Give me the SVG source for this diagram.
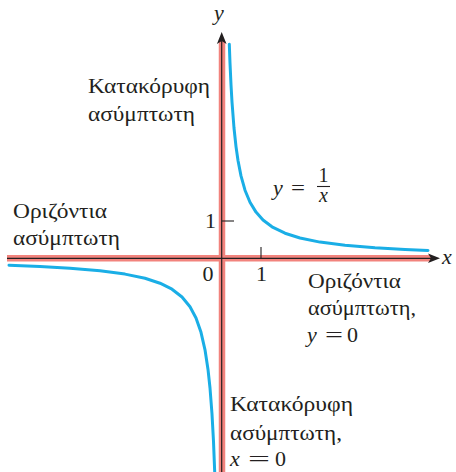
<svg xmlns="http://www.w3.org/2000/svg" width="456" height="472" viewBox="0 0 456 472">
<style>
.t{font-family:"Liberation Serif","Times New Roman",serif;font-size:22px;fill:#231f20}
.i{font-style:italic}
.f{font-size:20px}
.band{stroke:#f2837d;stroke-width:6.5;fill:none}
.ax{stroke:#231f20;stroke-width:1.2;fill:none}
.tick{stroke:#231f20;stroke-width:1.1}
.curve{stroke:#1aaee6;stroke-width:3;fill:none;stroke-linejoin:round;stroke-linecap:round}
.ah{fill:#231f20}
</style>
<rect width="456" height="472" fill="#ffffff"/>
<g id="asymptotes">
<line class="band" x1="222" y1="41" x2="222" y2="472"/>
<line class="band" x1="7" y1="258.3" x2="431" y2="258.3"/>
</g>
<g id="axes">
<line class="ax" x1="221.7" y1="38" x2="221.7" y2="472"/>
<line class="ax" x1="7" y1="258.3" x2="434" y2="258.3"/>
<path class="ah" d="M221.7,32 L226.5,44 L221.7,41 L216.9,44 Z"/>
<path class="ah" d="M440,258.3 L428,253.5 L431,258.3 L428,263.1 Z"/>
<line class="tick" x1="222" y1="221" x2="234" y2="221"/>
<line class="tick" x1="261" y1="247" x2="261" y2="258"/>
</g>
<g id="curve">
<polyline class="curve" points="229.3,44.3 230,63 231,84.7 232,102 234,128 236,146.6 238,160.5 241,175.9 245,190.2 250,202.3 256,212.1 263,220 272,226.8 285,233.2 300,238 320,242.1 345,245.3 375,247.8 405,249.5 428,250.4"/>
<polyline class="curve" points="9,265.3 40,266.6 70,268.3 100,270.8 125,274.1 145,278.3 160,283.2 172,289.2 182,297 190,306.75 196,318 201,332.3 205,349.8 208,369.4 210,388 212,414 213.5,441.5 214.7,471.7 215,481"/>
</g>
<g id="labels">
<text class="t i" x="214" y="20">y</text>
<text class="t i" x="442" y="264">x</text>
<text class="t" x="205" y="228">1</text>
<text class="t" x="202.5" y="281">0</text>
<text class="t" x="256" y="281">1</text>
</g>
<g id="func-label">
<text class="t i" x="273" y="195">y</text>
<text class="t" x="291" y="195" textLength="14" lengthAdjust="spacingAndGlyphs">=</text>
<text class="t f" x="323.5" y="182" text-anchor="middle">1</text>
<line class="tick" x1="317" y1="186.5" x2="330" y2="186.5"/>
<text class="t i f" x="323.5" y="202" text-anchor="middle">x</text>
</g>
<g id="vertical-asymptote-label-top">
<text class="t" x="88" y="93" textLength="122" lengthAdjust="spacingAndGlyphs">Κατακόρυφη</text>
<text class="t" x="88" y="121" textLength="107" lengthAdjust="spacingAndGlyphs">ασύμπτωτη</text>
</g>
<g id="horizontal-asymptote-label-left">
<text class="t" x="13" y="218" textLength="94" lengthAdjust="spacingAndGlyphs">Οριζόντια</text>
<text class="t" x="13" y="245" textLength="107" lengthAdjust="spacingAndGlyphs">ασύμπτωτη</text>
</g>
<g id="horizontal-asymptote-label-right">
<text class="t" x="308" y="288" textLength="93" lengthAdjust="spacingAndGlyphs">Οριζόντια</text>
<text class="t" x="308" y="315" textLength="108" lengthAdjust="spacingAndGlyphs">ασύμπτωτη,</text>
<text class="t i" x="307" y="342">y</text>
<text class="t" x="325" y="342" textLength="18" lengthAdjust="spacingAndGlyphs">=</text>
<text class="t" x="347" y="342">0</text>
</g>
<g id="vertical-asymptote-label-bottom">
<text class="t" x="230" y="411" textLength="123" lengthAdjust="spacingAndGlyphs">Κατακόρυφη</text>
<text class="t" x="230" y="440" textLength="112" lengthAdjust="spacingAndGlyphs">ασύμπτωτη,</text>
<text class="t i" x="230" y="466">x</text>
<text class="t" x="248" y="466" textLength="22" lengthAdjust="spacingAndGlyphs">=</text>
<text class="t" x="275" y="466">0</text>
</g>
</svg>
